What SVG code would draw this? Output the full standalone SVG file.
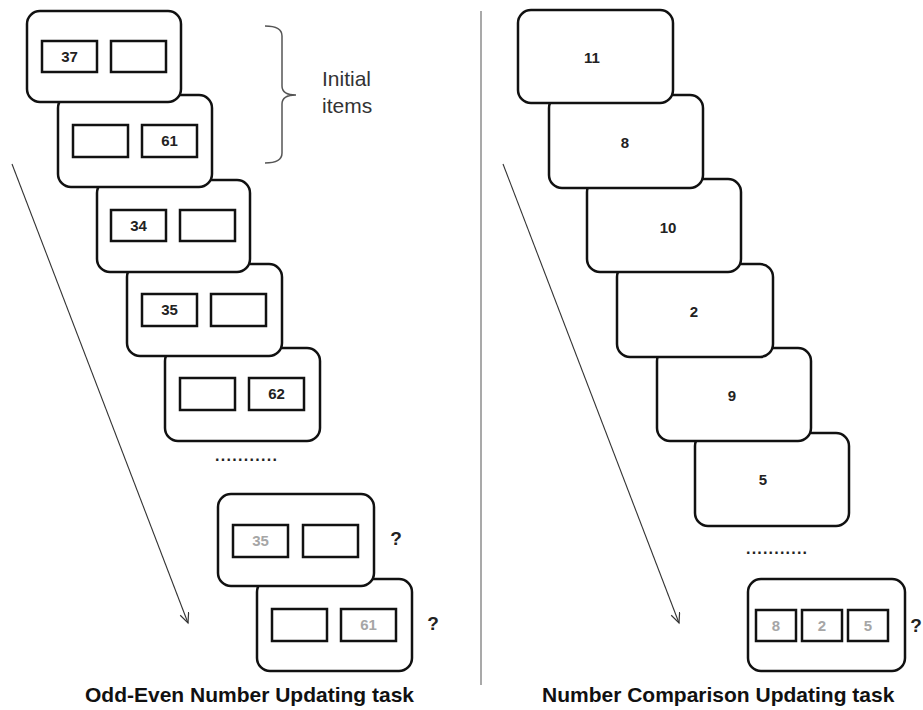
<svg xmlns="http://www.w3.org/2000/svg" width="923" height="710" viewBox="0 0 923 710">
  <style>
    .card { fill: #ffffff; stroke: #111111; stroke-width: 2.5; }
    .slot { fill: #ffffff; stroke: #111111; stroke-width: 2.5; }
    .num { font-family: "Liberation Sans", Arial, sans-serif; font-weight: bold; font-size: 15px; fill: #222222; text-anchor: middle; }
    .num.dim { fill: #a6a6a6; }
    .q { font-family: "Liberation Sans", Arial, sans-serif; font-weight: bold; font-size: 19px; fill: #222222; text-anchor: middle; }
    .dots { font-family: "Liberation Sans", Arial, sans-serif; font-weight: bold; font-size: 16px; fill: #222222; }
    .title { font-family: "Liberation Sans", Arial, sans-serif; font-weight: bold; font-size: 21px; fill: #111111; }
    .label { font-family: "Liberation Sans", Arial, sans-serif; font-size: 21px; fill: #333333; }
    .arrow { stroke: #333333; stroke-width: 1.1; fill: none; marker-end: url(#head); }
  </style>
  <defs>
    <marker id="head" markerUnits="userSpaceOnUse" markerWidth="14" markerHeight="12" refX="11" refY="5" orient="auto">
      <path d="M1,0.5 L11,5 L1,9.5" fill="none" stroke="#333333" stroke-width="1.2"/>
    </marker>
  </defs>
  <rect x="0" y="0" width="923" height="710" fill="#ffffff"/>

  <!-- divider and brace -->
  <line x1="481" y1="11" x2="481" y2="685" stroke="#8c8c8c" stroke-width="1.5"/>
  <path d="M265,26 Q282,26 282,36 L282,86 Q282,95 296,95 Q282,95 282,104 L282,153 Q282,163 265,163" fill="none" stroke="#555555" stroke-width="1.5"/>
  <text class="label" x="322" y="86">Initial</text>
  <text class="label" x="322" y="113">items</text>

  <!-- connectors -->
  <g id="connectors">
    <line class="arrow" x1="12" y1="164" x2="188" y2="623"/>
    <line class="arrow" x1="503" y1="164" x2="679" y2="623"/>
  </g>

  <!-- left column (drawn back to front) -->
  <g id="L7">
    <rect class="card" x="257" y="579" width="155" height="92" rx="13"/>
    <rect class="slot" x="272" y="609" width="55" height="32"/>
    <rect class="slot" x="341" y="609" width="55" height="32"/>
    <text class="num dim" x="368.5" y="630">61</text>
    <text class="q" x="433" y="630">?</text>
  </g>
  <g id="L6">
    <rect class="card" x="218" y="494" width="156" height="92" rx="13"/>
    <rect class="slot" x="233" y="525" width="55" height="32"/>
    <rect class="slot" x="303" y="525" width="55" height="32"/>
    <text class="num dim" x="260.5" y="546">35</text>
    <text class="q" x="396" y="545">?</text>
  </g>
  <text class="dots" x="215" y="461" textLength="62" lengthAdjust="spacing">...........</text>
  <g id="L5">
    <rect class="card" x="165" y="348" width="155" height="93" rx="13"/>
    <rect class="slot" x="180" y="378" width="55" height="32"/>
    <rect class="slot" x="249" y="378" width="55" height="32"/>
    <text class="num" x="276.5" y="399">62</text>
  </g>
  <g id="L4">
    <rect class="card" x="127" y="264" width="155" height="92" rx="13"/>
    <rect class="slot" x="142" y="294" width="55" height="32"/>
    <rect class="slot" x="211" y="294" width="55" height="32"/>
    <text class="num" x="169.5" y="315">35</text>
  </g>
  <g id="L3">
    <rect class="card" x="97" y="180" width="153" height="92" rx="13"/>
    <rect class="slot" x="111" y="210" width="55" height="31"/>
    <rect class="slot" x="180" y="210" width="55" height="31"/>
    <text class="num" x="138.5" y="231">34</text>
  </g>
  <g id="L2">
    <rect class="card" x="58" y="95" width="154" height="92" rx="13"/>
    <rect class="slot" x="73" y="125" width="55" height="32"/>
    <rect class="slot" x="142" y="125" width="55" height="32"/>
    <text class="num" x="169.5" y="146">61</text>
  </g>
  <g id="L1">
    <rect class="card" x="27" y="11" width="154" height="91" rx="13"/>
    <rect class="slot" x="42" y="41" width="55" height="31"/>
    <rect class="slot" x="111" y="41" width="55" height="31"/>
    <text class="num" x="69.5" y="62">37</text>
  </g>

  <!-- right column (drawn back to front) -->
  <g id="R7">
    <rect class="card" x="748" y="579" width="157" height="92" rx="13"/>
    <rect class="slot" x="756" y="610" width="40" height="31"/>
    <rect class="slot" x="802" y="610" width="40" height="31"/>
    <rect class="slot" x="848" y="610" width="40" height="31"/>
    <text class="num dim" x="776" y="631">8</text>
    <text class="num dim" x="822" y="631">2</text>
    <text class="num dim" x="868" y="631">5</text>
    <text class="q" x="916" y="632">?</text>
  </g>
  <text class="dots" x="746" y="554" textLength="61" lengthAdjust="spacing">...........</text>
  <g id="R6">
    <rect class="card" x="695" y="433" width="154" height="93" rx="13"/>
    <text class="num" x="763" y="485">5</text>
  </g>
  <g id="R5">
    <rect class="card" x="657" y="348" width="154" height="93" rx="13"/>
    <text class="num" x="732" y="401">9</text>
  </g>
  <g id="R4">
    <rect class="card" x="617" y="264" width="156" height="93" rx="13"/>
    <text class="num" x="694" y="317">2</text>
  </g>
  <g id="R3">
    <rect class="card" x="587" y="179" width="154" height="93" rx="13"/>
    <text class="num" x="668" y="233">10</text>
  </g>
  <g id="R2">
    <rect class="card" x="549" y="95" width="154" height="93" rx="13"/>
    <text class="num" x="625" y="148">8</text>
  </g>
  <g id="R1">
    <rect class="card" x="518" y="10" width="155" height="93" rx="13"/>
    <text class="num" x="592" y="63">11</text>
  </g>

  <!-- titles -->
  <text class="title" x="85" y="702">Odd-Even Number Updating task</text>
  <text class="title" x="542" y="702">Number Comparison Updating task</text>
</svg>
